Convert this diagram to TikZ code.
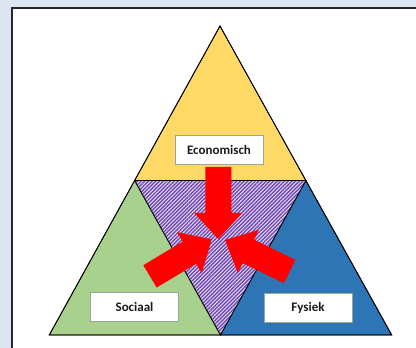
\documentclass[tikz,border=0pt]{standalone}
\usepackage{fontspec}
\setmainfont{Carlito}
\usetikzlibrary{patterns.meta}
\definecolor{bgblue}{HTML}{DCE6F2}
\definecolor{frame}{HTML}{262626}
\definecolor{ecoyellow}{HTML}{FFD966}
\definecolor{socgreen}{HTML}{A9D18E}
\definecolor{fysblue}{HTML}{2E75B6}
\definecolor{midpurple}{HTML}{7048B0}
\definecolor{midback}{HTML}{E4DDF2}
\definecolor{arrowred}{HTML}{FF0000}
\definecolor{boxgray}{HTML}{9AA596}
\definecolor{txt}{HTML}{1A1A1A}
\tikzset{
  tri/.style={draw=black, line width=0.8pt, line join=miter},
  labelbox/.style={draw=boxgray, line width=0.6pt, fill=white, minimum width=88pt, minimum height=29pt, inner sep=0pt, font=\fontsize{13}{15}\selectfont\bfseries, text=txt},
  blockarrow/.pic={\fill[arrowred] (0,0) -- (-26,24) -- (-26,13) -- (-72,13) -- (-72,-13) -- (-26,-13) -- (-26,-24) -- cycle;}
}
\begin{document}
\begin{tikzpicture}[x=1pt,y=1pt]
\useasboundingbox (0,0) rectangle (416,348);
\clip (0,0) rectangle (416,348);
\fill[bgblue] (0,0) rectangle (416,348);
\fill[white] (12,-10) rectangle (430,340);
\draw[frame, line width=1.6pt] (12,-10) -- (12,340) -- (430,340);
\coordinate (A) at (220,322);
\coordinate (BL) at (49.3,13);
\coordinate (BR) at (391.7,13);
\path (A) -- (BL) coordinate[pos=0.5] (ML);
\path (A) -- (BR) coordinate[pos=0.5] (MR);
\path (BL) -- (BR) coordinate[pos=0.5] (MB);
\draw[tri, fill=ecoyellow] (A) -- (ML) -- (MR) -- cycle;
\draw[tri, fill=socgreen] (ML) -- (BL) -- (MB) -- cycle;
\draw[tri, fill=fysblue] (MR) -- (MB) -- (BR) -- cycle;
\fill[midback] (ML) -- (MR) -- (MB) -- cycle;
\fill[pattern={Lines[angle=45,distance=2.6pt,line width=1.4pt]}, pattern color=midpurple] (ML) -- (MR) -- (MB) -- cycle;
\draw[tri] (ML) -- (MR) -- (MB) -- cycle;
\draw[tri] (A) -- (BL) -- (BR) -- cycle;
\pic[rotate=-90] at (218.3,109) {blockarrow};
\pic[rotate=31] at (211.7,108.7) {blockarrow};
\pic[rotate=154] at (225,108) {blockarrow};
\node[labelbox] (eco) at (219,197.7) {Economisch};
\node[labelbox] (soc) at (134.5,41) {Sociaal};
\node[labelbox] (fys) at (308,40.5) {Fysiek};
\end{tikzpicture}
\end{document}
